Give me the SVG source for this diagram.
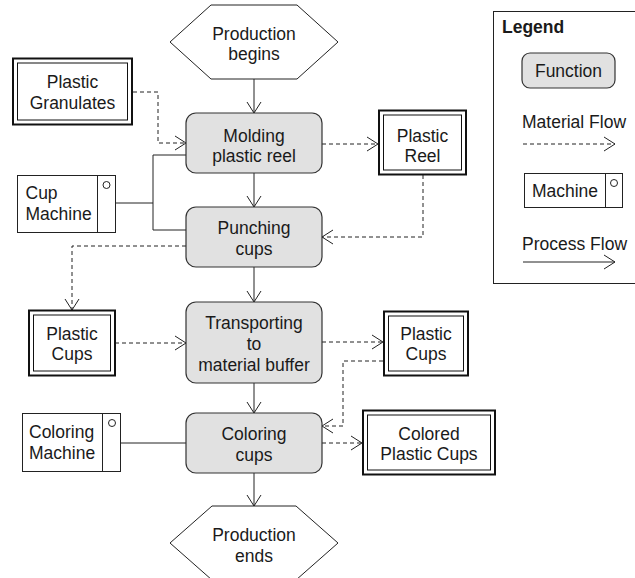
<svg xmlns="http://www.w3.org/2000/svg" width="635" height="578" viewBox="0 0 635 578">
  <style>
    text { font-family: "Liberation Sans", Arial, sans-serif; font-size: 17.5px; fill: #1a1a1a; }
    .c { text-anchor: middle; }
    .fn { fill: #e1e1e1; stroke: #333; stroke-width: 1.2; }
    .ev { fill: #fff; stroke: #222; stroke-width: 1; }
    .mat-o { fill: #fff; stroke: #111; stroke-width: 2; }
    .mat-i { fill: none; stroke: #111; stroke-width: 1; }
    .mach { fill: #fff; stroke: #222; stroke-width: 1; }
    .proc { fill: none; stroke: #222; stroke-width: 1; }
    .flow { fill: none; stroke: #222; stroke-width: 1; stroke-dasharray: 4 3; }
  </style>
  <defs>
    <marker id="arrow" markerWidth="14" markerHeight="16" refX="12" refY="8" orient="auto" markerUnits="userSpaceOnUse">
      <path d="M1,1 L12,8 L1,15" fill="none" stroke="#222" stroke-width="1"/>
    </marker>
  </defs>

  <!-- connectors -->
  <g id="connectors">
    <!-- process flow -->
    <path class="proc" d="M254,79 V113" marker-end="url(#arrow)"/>
    <path class="proc" d="M254,173 V207" marker-end="url(#arrow)"/>
    <path class="proc" d="M254,267 V302" marker-end="url(#arrow)"/>
    <path class="proc" d="M254,383 V413" marker-end="url(#arrow)"/>
    <path class="proc" d="M254,473 V506" marker-end="url(#arrow)"/>
    <!-- machine links -->
    <path class="proc" d="M116,203 H153"/>
    <path class="proc" d="M186,155 H153 V230 H186"/>
    <path class="proc" d="M121,443 H186"/>
    <!-- material flow -->
    <path class="flow" d="M133,92 H158 V143 H186" marker-end="url(#arrow)"/>
    <path class="flow" d="M322,144 H378" marker-end="url(#arrow)"/>
    <path class="flow" d="M423,175 V237 H322" marker-end="url(#arrow)"/>
    <path class="flow" d="M186,246 H72 V310" marker-end="url(#arrow)"/>
    <path class="flow" d="M115,343 H186" marker-end="url(#arrow)"/>
    <path class="flow" d="M322,342 H383" marker-end="url(#arrow)"/>
    <path class="flow" d="M383,361 H343 V426 H322" marker-end="url(#arrow)"/>
    <path class="flow" d="M322,443 H362" marker-end="url(#arrow)"/>
  </g>

  <!-- events -->
  <g id="production-begins">
    <polygon class="ev" points="170,42 211,5 297,5 338,42 297,79 211,79"/>
    <text class="c" x="254" y="39.5">Production</text>
    <text class="c" x="254" y="60">begins</text>
  </g>
  <g id="production-ends">
    <polygon class="ev" points="170,543 212,506 296,506 338,543 296,580 212,580"/>
    <text class="c" x="254" y="540.5">Production</text>
    <text class="c" x="254" y="561.5">ends</text>
  </g>

  <!-- functions -->
  <g id="molding">
    <rect class="fn" x="186" y="113" width="136" height="60" rx="10"/>
    <text class="c" x="254" y="141.5">Molding</text>
    <text class="c" x="254" y="162">plastic reel</text>
  </g>
  <g id="punching">
    <rect class="fn" x="186" y="207" width="136" height="60" rx="10"/>
    <text class="c" x="254" y="234">Punching</text>
    <text class="c" x="254" y="254.5">cups</text>
  </g>
  <g id="transporting">
    <rect class="fn" x="186" y="302" width="136" height="81" rx="10"/>
    <text class="c" x="254" y="328.5">Transporting</text>
    <text class="c" x="254" y="349.5">to</text>
    <text class="c" x="254" y="370.5">material buffer</text>
  </g>
  <g id="coloring">
    <rect class="fn" x="186" y="413" width="136" height="60" rx="10"/>
    <text class="c" x="254" y="440">Coloring</text>
    <text class="c" x="254" y="460.5">cups</text>
  </g>

  <!-- materials -->
  <g id="plastic-granulates">
    <rect class="mat-o" x="13" y="58.5" width="119" height="66"/>
    <rect class="mat-i" x="17.5" y="63" width="110" height="57"/>
    <text class="c" x="72.5" y="87.5">Plastic</text>
    <text class="c" x="72.5" y="109">Granulates</text>
  </g>
  <g id="plastic-reel">
    <rect class="mat-o" x="379" y="110.5" width="87" height="64"/>
    <rect class="mat-i" x="383.5" y="115" width="78" height="55"/>
    <text class="c" x="422.5" y="141.5">Plastic</text>
    <text class="c" x="422.5" y="161.5">Reel</text>
  </g>
  <g id="plastic-cups-left">
    <rect class="mat-o" x="29" y="310.5" width="86" height="65"/>
    <rect class="mat-i" x="33.5" y="315" width="77" height="56"/>
    <text class="c" x="72" y="339.5">Plastic</text>
    <text class="c" x="72" y="360">Cups</text>
  </g>
  <g id="plastic-cups-right">
    <rect class="mat-o" x="384" y="311.5" width="84" height="64"/>
    <rect class="mat-i" x="388.5" y="316" width="75" height="55"/>
    <text class="c" x="426" y="340">Plastic</text>
    <text class="c" x="426" y="360">Cups</text>
  </g>
  <g id="colored-plastic-cups">
    <rect class="mat-o" x="363" y="410.5" width="132" height="64"/>
    <rect class="mat-i" x="367.5" y="415" width="123" height="55"/>
    <text class="c" x="429" y="439.5">Colored</text>
    <text class="c" x="429" y="460">Plastic Cups</text>
  </g>

  <!-- machines -->
  <g id="cup-machine">
    <rect class="mach" x="17.5" y="175.5" width="98" height="57"/>
    <line class="proc" x1="97.5" y1="175.5" x2="97.5" y2="232.5"/>
    <circle class="mach" cx="106.5" cy="185" r="3.5"/>
    <text x="25.5" y="199">Cup</text>
    <text x="25.5" y="220">Machine</text>
  </g>
  <g id="coloring-machine">
    <rect class="mach" x="22.5" y="413.5" width="98" height="58"/>
    <line class="proc" x1="102.5" y1="413.5" x2="102.5" y2="471.5"/>
    <circle class="mach" cx="112" cy="423" r="3.5"/>
    <text x="29" y="438">Coloring</text>
    <text x="29" y="458.5">Machine</text>
  </g>

  <!-- legend -->
  <g id="legend">
    <rect x="493.5" y="11.5" width="160" height="272" fill="#fff" stroke="#222" stroke-width="1"/>
    <text x="502" y="33" font-weight="bold">Legend</text>
    <rect class="fn" x="522" y="53" width="93" height="35" rx="8"/>
    <text class="c" x="568.5" y="77">Function</text>
    <text x="522" y="128">Material Flow</text>
    <path class="flow" d="M523,144 H615" marker-end="url(#arrow)"/>
    <rect class="mach" x="524.5" y="173.5" width="98" height="34"/>
    <line class="proc" x1="605.5" y1="173.5" x2="605.5" y2="207.5"/>
    <circle class="mach" cx="614" cy="183" r="3.5"/>
    <text class="c" x="565" y="197">Machine</text>
    <text x="522" y="250">Process Flow</text>
    <path class="proc" d="M523,262 H615" marker-end="url(#arrow)"/>
  </g>
</svg>
